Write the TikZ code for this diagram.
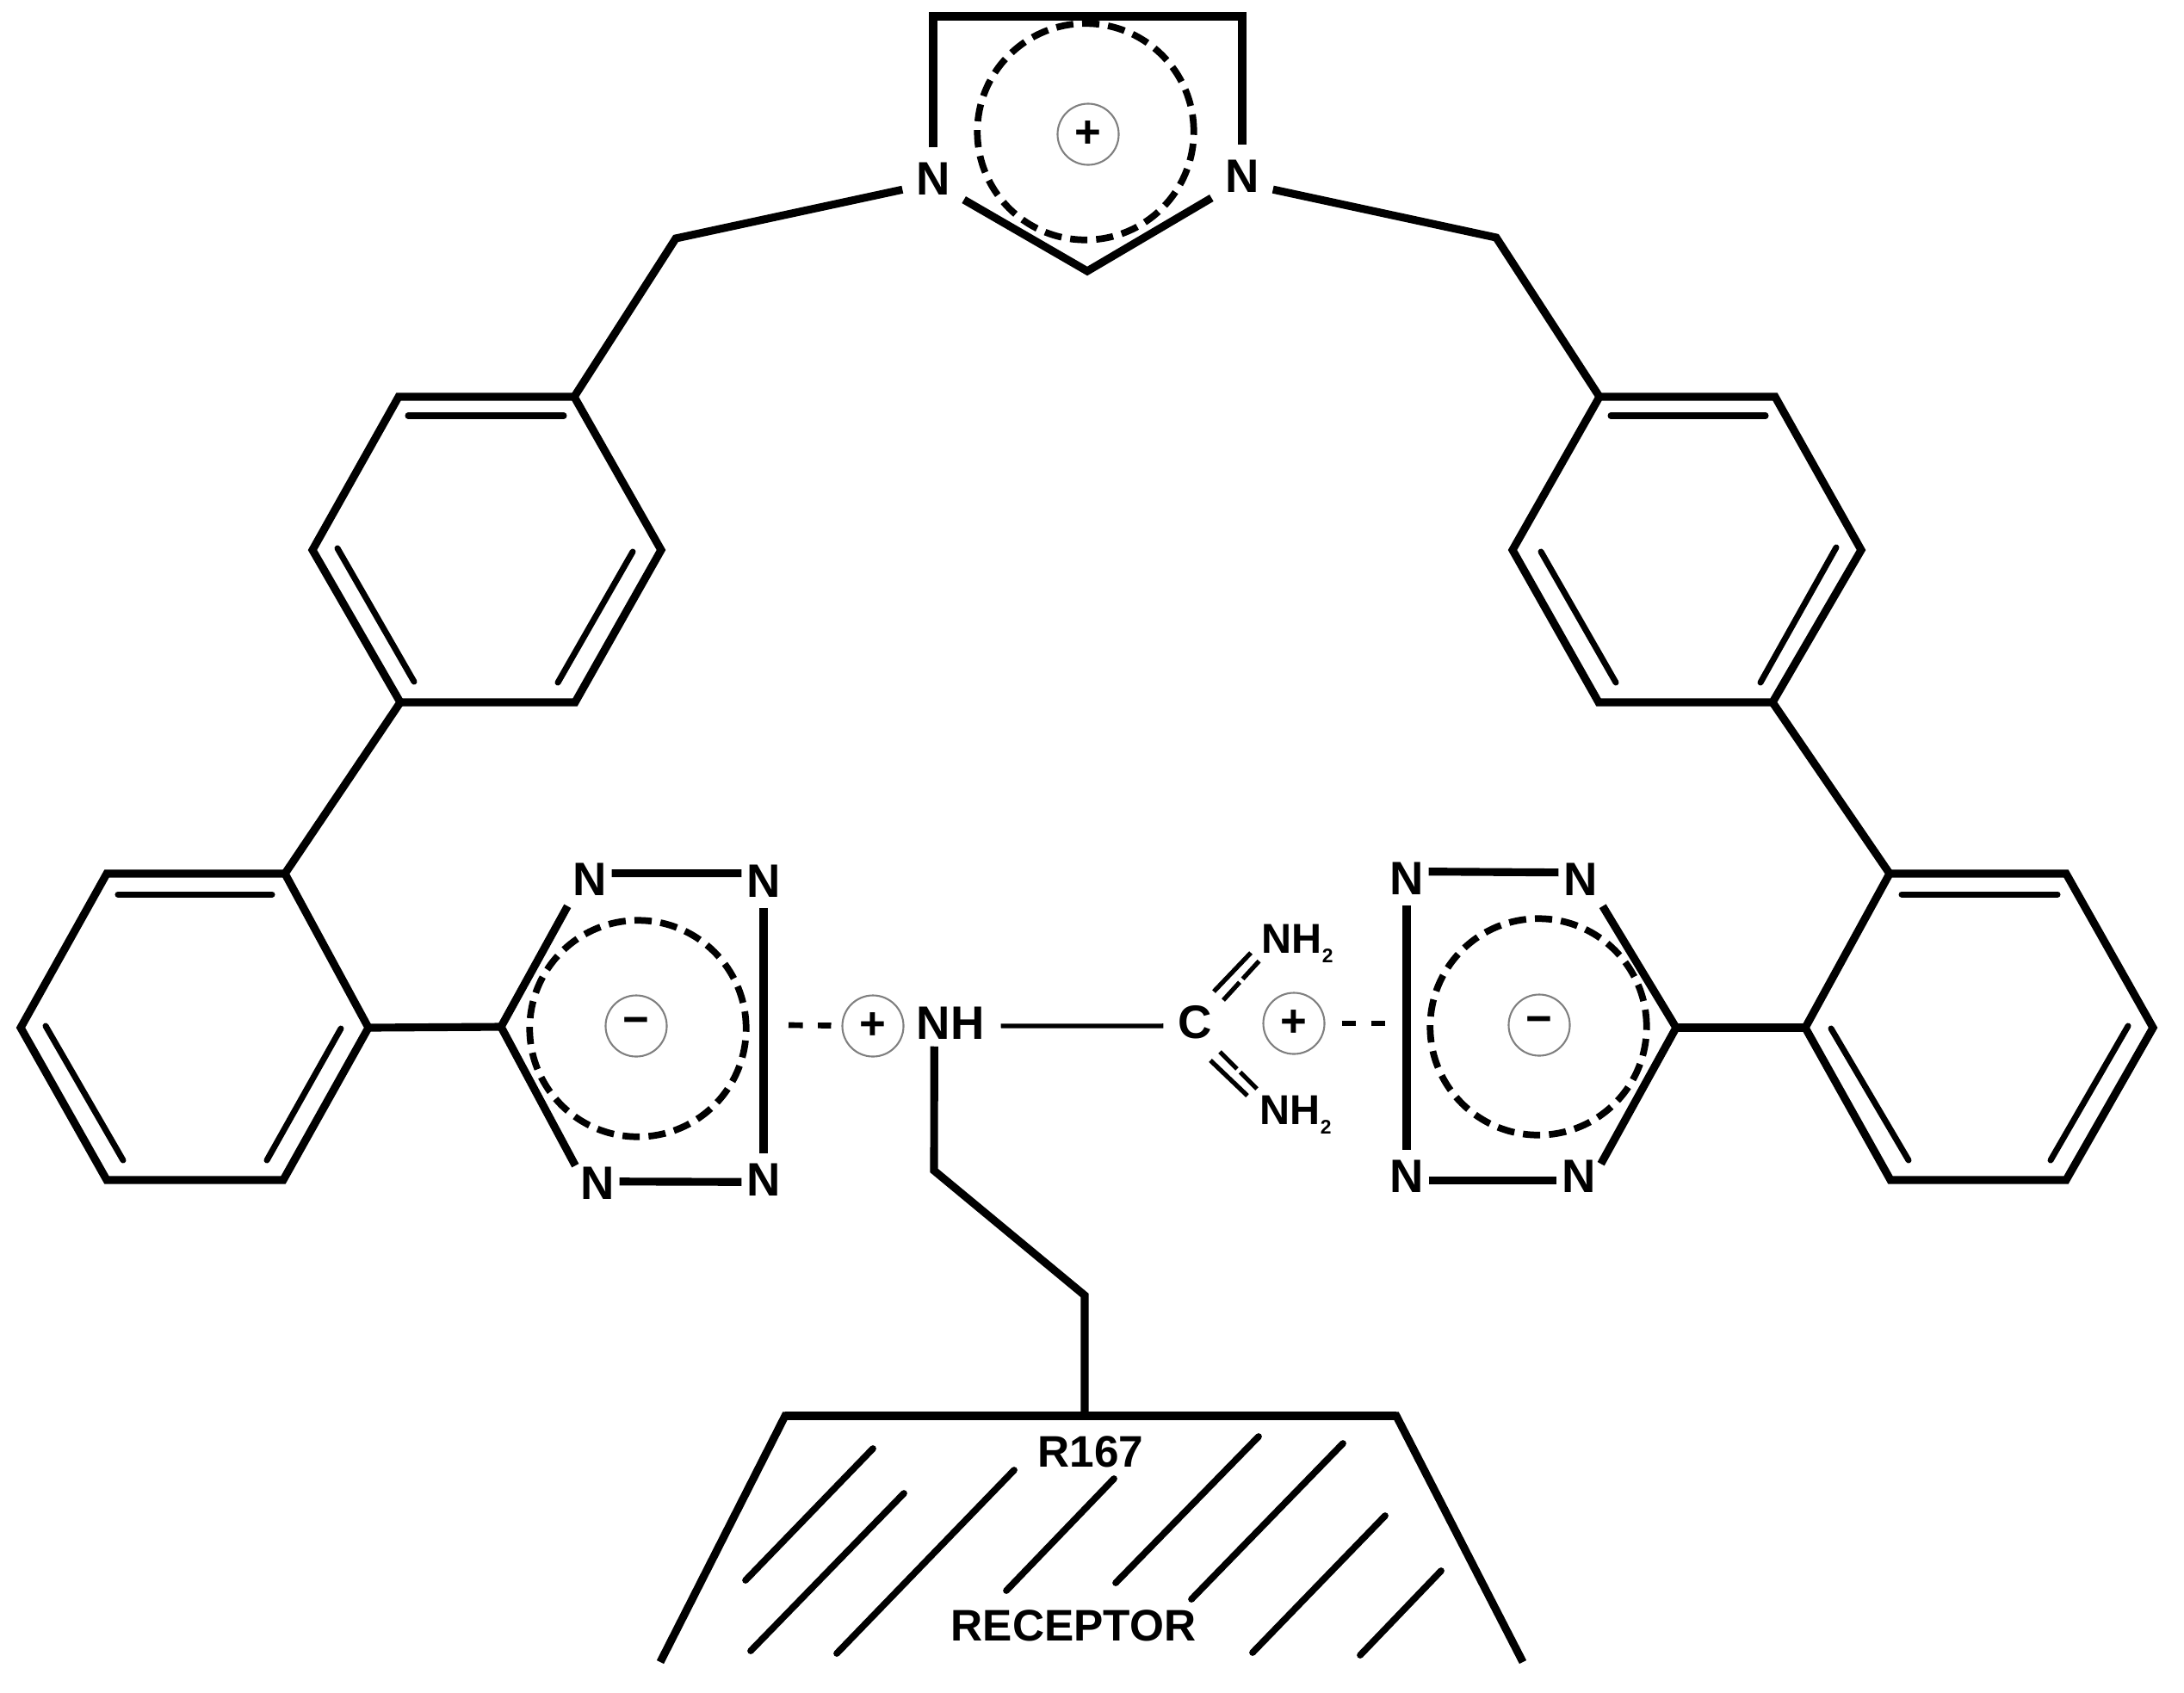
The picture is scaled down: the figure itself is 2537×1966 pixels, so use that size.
\documentclass[tikz,border=0pt]{standalone}
\usepackage{fontspec}
\setmainfont{Liberation Sans}
\tikzset{
	bond/.style={line width=2.6pt, line join=miter},
	inbond/.style={line width=2pt, line cap=round},
	thinbond/.style={line width=1.5pt},
	hatchline/.style={line width=2.2pt, line cap=round},
	hbond/.style={line width=1.9pt, dash pattern=on 4.7pt off 5pt},
	atom/.style={inner sep=0pt, minimum width=14.2pt, minimum height=17.1pt, font=\fontsize{15.5}{15.5}\selectfont\bfseries},
	imatom/.style={atom, minimum width=19.9pt, minimum height=20.5pt},
	amine/.style={inner sep=0pt, anchor=base west, font=\fontsize{13.8}{14}\selectfont\bfseries},
	charge/.style={draw=gray, circle, line width=0.6pt, inner sep=0pt, minimum size=20.2pt, font=\fontsize{15}{15}\selectfont\bfseries},
	delocal/.style={draw, circle, line width=2.2pt, dash pattern=on 5.7pt off 2.9pt, inner sep=0pt, minimum size=71.5pt},
	label/.style={inner sep=0pt, font=\fontsize{14.6}{15}\selectfont\bfseries}
}
\begin{document}
\begin{tikzpicture}[x=0.01cm, y=-0.01cm]
	\useasboundingbox (0,0) rectangle (2537,1966);

	% Imidazolium ring
	\node[imatom] (imL) at (1084,208) {N};
	\node[imatom] (imR) at (1443,205) {N};
	\coordinate (imTL) at (1084,19);
	\coordinate (imTR) at (1443,19);
	\coordinate (imB) at (1263,315);
	\node[delocal] (imRing) at (1261,153) {};
	\node[charge] (imCharge) at (1264,156) {+};
	\draw[bond] (imL) -- (imTL) -- (imTR) -- (imR);
	\draw[bond] (imL.-34) -- (imB) -- (imR.215);

	% Methylene links
	\coordinate (chL) at (785,277);
	\coordinate (chR) at (1738,276);

	% Upper benzene rings
	\coordinate (ul1) at (667,461);
	\coordinate (ul2) at (463,461);
	\coordinate (ul3) at (363,639);
	\coordinate (ul4) at (465,816);
	\coordinate (ul5) at (668,816);
	\coordinate (ul6) at (768,639);
	\draw[bond] (ul1) -- (ul2) -- (ul3) -- (ul4) -- (ul5) -- (ul6) -- cycle;
	\coordinate (ur1) at (1858,461);
	\coordinate (ur2) at (2062,461);
	\coordinate (ur3) at (2162,639);
	\coordinate (ur4) at (2059,816);
	\coordinate (ur5) at (1857,816);
	\coordinate (ur6) at (1757,639);
	\draw[bond] (ur1) -- (ur2) -- (ur3) -- (ur4) -- (ur5) -- (ur6) -- cycle;

	% Lower benzene rings
	\coordinate (ll1) at (331,1015);
	\coordinate (ll2) at (124,1015);
	\coordinate (ll3) at (24,1194);
	\coordinate (ll4) at (124,1371);
	\coordinate (ll5) at (329,1371);
	\coordinate (ll6) at (428,1194);
	\draw[bond] (ll1) -- (ll2) -- (ll3) -- (ll4) -- (ll5) -- (ll6) -- cycle;
	\coordinate (lr1) at (2195,1015);
	\coordinate (lr2) at (2400,1015);
	\coordinate (lr3) at (2501,1194);
	\coordinate (lr4) at (2400,1371);
	\coordinate (lr5) at (2196,1371);
	\coordinate (lr6) at (2097,1194);
	\draw[bond] (lr1) -- (lr2) -- (lr3) -- (lr4) -- (lr5) -- (lr6) -- cycle;

	% Inner double bonds
	\foreach \xa/\ya/\xb/\yb in {474/483/655/483, 392/637/481/792, 735/641/648/793,
		1871/483/2051/483, 1790/641/1877/793, 2133/636/2045/793,
		137/1039/316/1039, 53/1192/143/1348, 396/1195/310/1348,
		2209/1039/2390/1039, 2127/1195/2217/1348, 2472/1192/2382/1348}
		\draw[inbond] (\xa,\ya) -- (\xb,\yb);

	% Left tetrazole
	\node[atom] (lt1) at (685,1022) {N};
	\node[atom] (lt2) at (887,1024) {N};
	\node[atom] (lt3) at (694,1375) {N};
	\node[atom] (lt4) at (887,1371) {N};
	\coordinate (ltC) at (582,1193);
	\node[delocal] (ltRing) at (741,1195) {};
	\node[charge] (ltCharge) at (739,1192) {−};
	\draw[bond] (lt1.16) -- (lt2.160);
	\draw[bond] (lt3.5) -- (lt4.185);
	\draw[bond] (lt2.south) -- (lt4.north);
	\draw[bond] (lt1.south west) -- (ltC) -- (lt3.141);

	% Right tetrazole
	\node[atom] (rt1) at (1634,1021) {N};
	\node[atom] (rt2) at (1836,1022) {N};
	\node[atom] (rt3) at (1634,1367) {N};
	\node[atom] (rt4) at (1834,1367) {N};
	\coordinate (rtC) at (1947,1194);
	\node[delocal] (rtRing) at (1787,1193) {};
	\node[charge] (rtCharge) at (1788,1191) {−};
	\draw[bond] (rt1.18) -- (rt2.162);
	\draw[bond] (rt3.-9) -- (rt4.189);
	\draw[bond] (rt1.south) -- (rt3.north);
	\draw[bond] (rt2.south east) -- (rtC) -- (rt4.30);

	% Edges between the parts
	\draw[bond] (imL.199) -- (chL) -- (ul1);
	\draw[bond] (imR.-23) -- (chR) -- (ur1);
	\draw[bond] (ul4) -- (ll1);
	\draw[bond] (ur4) -- (lr1);
	\draw[bond] (ll6) -- (ltC);
	\draw[bond] (lr6) -- (rtC);

	% Arginine side chain
	\node[charge] (nhCharge) at (1014,1192) {+};
	\node[atom, minimum width=33pt, minimum height=14.8pt] (nh) at (1104,1189) {NH};
	\node[atom, minimum width=20.5pt] (cc) at (1388,1188) {C};
	\node[charge] (ccCharge) at (1503,1189) {+};
	\node[amine] (am1) at (1465,1107) {NH\raisebox{-3.3pt}{\fontsize{6.5}{7}\selectfont 2}};
	\node[amine] (am2) at (1463,1306) {NH\raisebox{-3.3pt}{\fontsize{6.5}{7}\selectfont 2}};
	\coordinate (hbL) at (916,1191);
	\coordinate (hbR) at (1610,1189);
	\draw[hbond, shorten >=3.4pt] (hbL) -- (nhCharge);
	\draw[hbond, shorten <=5.4pt] (ccCharge) -- (hbR);
	\draw[thinbond] (nh.-3) -- (cc.186);
	\draw[thinbond] ([shift={(22,-36)}]cc.center) -- ([shift={(-12,0)}]am1.base west);
	\draw[thinbond, dash pattern=on 8pt off 1.5pt on 8pt] ([shift={(33,-26)}]cc.center) -- ([shift={(-1,8)}]am1.base west);
	\draw[thinbond] ([shift={(18,44)}]cc.center) -- ([shift={(-14,-33)}]am2.base west);
	\draw[thinbond, dash pattern=on 8pt off 1.5pt on 8pt] ([shift={(29,34)}]cc.center) -- ([shift={(-3,-41)}]am2.base west);

	% Receptor
	\coordinate (ch1) at (1085,1360);
	\coordinate (ch2) at (1260,1505);
	\coordinate (rcTL) at (912,1645);
	\coordinate (rcTR) at (1622,1645);
	\coordinate (rcBL) at (767,1931);
	\coordinate (rcBR) at (1769,1931);
	\coordinate (rcTop) at (1260,1645);
	\draw[bond] (nh.235) -- (ch1) -- (ch2) -- (rcTop);
	\draw[bond] (rcBL) -- (rcTL) -- (rcTR) -- (rcBR);
	\draw[line width=2.9pt] (rcTL) -- (rcTR);
	\node[label] (r167) at (1267,1687) {R167};
	\node[label] (rec) at (1247,1889) {RECEPTOR};
	\foreach \xa/\ya/\xb/\yb in {1014/1683/866/1836, 1050/1735/872/1918, 1178/1708/972/1921,
		1294/1718/1169/1848, 1462/1669/1296/1839, 1560/1677/1384/1858,
		1609/1761/1455/1920, 1674/1825/1580/1923}
		\draw[hatchline] (\xa,\ya) -- (\xb,\yb);
\end{tikzpicture}
\end{document}
